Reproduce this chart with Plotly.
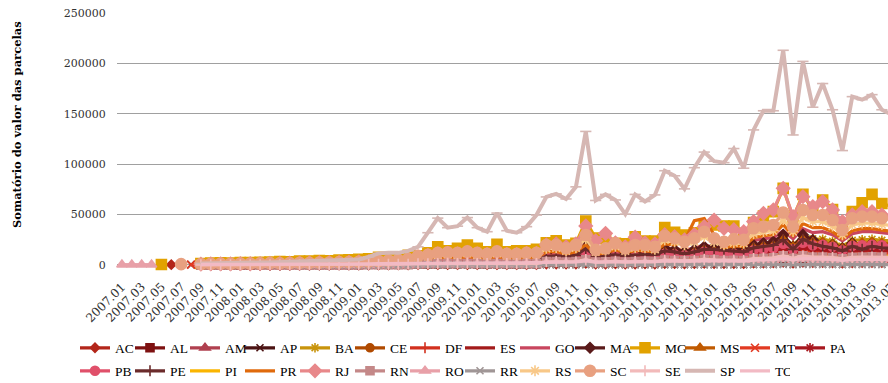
import plotly.graph_objects as go

# Months 2007.01 .. 2013.07
months = [f"{y}.{m:02d}" for y in range(2007, 2014) for m in range(1, 13)][:79]
tick_labels = months[::2]

# Values in thousands (R$), one list per state, aligned with `months`
AC = [None]*5 + [0.3, None, None] + [0.0,0.0,0.0,0.1,0.1,0.1,0.1,0.1,0.1,0.1,0.1,0.1,0.1,0.1,0.1,0.1,0.1,
      0.2,0.2,0.2,0.2,0.2,0.3, 0.3,0.4,0.4,0.4,0.4,0.4,0.3,0.4,0.3,0.3,0.4,0.4,
      1.0,1.0,0.9,1.0,1.6, 0.9,0.9,1.1,0.9,1.0,1.1,1.0,1.4, 1.3,1.2,1.3,1.6,1.5,1.3,1.4,1.3,
      1.8,2.0,2.1,2.7, 1.9,2.7,2.3,2.3,2.2,1.8, 2.2,2.3,2.4,2.3,2.2]
AL = [None]*8 + [0.1,0.1,0.1,0.1,0.1,0.1,0.2,0.2,0.2,0.2,0.2,0.2,0.3,0.3,0.3,0.3,0.3,
      0.4,0.4,0.5,0.5,0.6,0.9, 1.0,1.2,1.3,1.2,1.4,1.2,1.1,1.4,1.1,1.1,1.2,1.2,
      3.0,3.2,2.7,3.0,5.0, 2.7,2.9,3.4,2.7,3.1,3.4,3.1,4.5, 4.2,3.8,4.2,5.0,4.6,4.2,4.4,4.2,
      5.8,6.2,6.5,8.5, 6.0,8.5,7.3,7.3,6.8,5.5, 7.0,7.2,7.4,7.2,7.0]
AM = [None]*8 + [0.1,0.1,0.1,0.1,0.1,0.1,0.1,0.2,0.2,0.2,0.2,0.2,0.2,0.2,0.3,0.3,0.3,
      0.3,0.4,0.4,0.5,0.5,0.8, 0.9,1.1,1.1,1.1,1.2,1.1,1.0,1.2,1.0,1.0,1.1,1.1,
      2.5,2.6,2.2,2.5,4.0, 2.2,2.4,2.8,2.2,2.6,2.8,2.6,3.7, 3.5,3.1,3.5,4.2,3.8,3.5,3.6,3.5,
      4.8,5.2,5.4,7.0, 5.0,7.0,6.0,6.0,5.6,4.6, 5.8,6.0,6.1,6.0,5.8]
AP = [None]*7 + [0.3] + [0.0,0.0,0.0,0.0,0.0,0.0,0.0,0.0,0.0,0.0,0.0,0.0,0.0,0.0,0.0,0.0,0.0,
      0.0,0.1,0.1,0.1,0.1,0.1, 0.1,0.1,0.1,0.1,0.1,0.1,0.1,0.1,0.1,0.1,0.1,0.1,
      0.3,0.3,0.3,0.3,0.5, 0.3,0.3,0.3,0.3,0.3,0.3,0.3,0.3, 0.4,0.4,0.4,0.4,0.4,0.4,0.4,0.4,
      0.5,0.6,0.6,0.8, 0.6,0.8,0.7,0.7,0.7,0.5, 0.7,0.7,0.7,0.7,0.7]
BA = [None]*8 + [0.4,0.5,0.5,0.5,0.6,0.6,0.7,0.7,0.8,0.8,0.9,0.9,1.0,1.1,1.2,1.3,1.4,
      1.6,1.8,2.0,2.3,2.8,4.0, 4.8,5.5,6.0,5.5,6.5,5.5,5.0,6.5,5.0,5.0,5.5,5.5,
      9.5,10.0,8.5,10.0,15.0, 8.0,9.0,11.0,8.5,10.0,10.5,9.5,14.5, 13.5,12.0,13.5,16.5,14.0,12.5,13.5,13.0,
      19.0,20.0,21.0,27.0, 20.0,28.0,26.0,25.5,23.5,18.5, 24.5,25.0,25.5,24.5,24.0]
CE = [None]*8 + [0.2,0.2,0.2,0.3,0.3,0.3,0.3,0.4,0.4,0.4,0.4,0.5,0.5,0.5,0.6,0.6,0.7,
      0.7,0.8,0.9,1.0,1.2,1.8, 2.1,2.5,2.6,2.5,2.8,2.5,2.3,2.8,2.3,2.3,2.5,2.5,
      7.0,7.2,6.0,7.0,11.0, 6.0,6.5,7.5,6.0,7.0,7.5,7.0,10.0, 9.5,8.5,9.5,11.5,10.5,9.5,10.0,9.5,
      13.0,14.0,14.5,19.0, 13.5,19.5,17.0,17.0,15.5,12.5, 16.0,16.5,17.0,16.5,16.0]
DF = [None]*8 + [0.2,0.2,0.3,0.3,0.3,0.3,0.3,0.4,0.4,0.4,0.5,0.5,0.5,0.6,0.6,0.7,0.7,
      0.8,0.9,1.0,1.1,1.3,2.0, 2.4,2.8,2.9,2.8,3.1,2.8,2.6,3.1,2.6,2.6,2.8,2.8,
      7.5,7.8,6.5,7.5,12.0, 6.5,7.0,8.0,6.5,7.5,8.0,7.5,10.5, 10.0,9.0,10.0,12.0,11.0,10.0,10.5,10.0,
      13.5,14.5,15.0,20.0, 14.0,20.0,17.5,17.5,16.0,13.0, 16.5,17.0,17.5,17.0,16.5]
ES = [None]*8 + [0.1,0.1,0.1,0.1,0.2,0.2,0.2,0.2,0.2,0.2,0.3,0.3,0.3,0.3,0.4,0.4,0.4,
      0.5,0.5,0.6,0.6,0.8,1.1, 1.3,1.5,1.6,1.5,1.7,1.5,1.4,1.7,1.4,1.4,1.5,1.5,
      4.0,4.2,3.5,4.0,6.5, 3.5,3.8,4.5,3.5,4.0,4.5,4.0,6.0, 5.5,5.0,5.5,6.5,6.0,5.5,5.8,5.5,
      7.5,8.0,8.5,11.0, 8.0,11.0,9.5,9.5,9.0,7.0, 9.0,9.5,9.5,9.5,9.0]
GO = [None]*8 + [0.3,0.4,0.4,0.4,0.5,0.5,0.6,0.6,0.6,0.7,0.7,0.8,0.8,0.9,1.0,1.1,1.2,
      1.3,1.5,1.7,1.9,2.3,3.5, 4.0,4.8,5.0,4.8,5.5,4.8,4.5,5.5,4.5,4.5,5.0,5.0,
      11.0,11.5,9.5,11.0,17.0, 9.0,10.0,12.5,10.0,12.0,13.0,12.0,17.0, 16.0,15.0,16.5,20.0,17.0,15.0,16.5,16.0,
      24.0,26.0,27.0,34.0, 26.0,36.0,32.0,33.0,30.0,24.0, 31.0,33.0,33.0,32.0,31.0]
MA = [None]*8 + [0.2,0.2,0.3,0.3,0.3,0.3,0.4,0.4,0.4,0.5,0.5,0.5,0.6,0.6,0.7,0.7,0.8,
      0.9,1.0,1.1,1.2,1.5,2.2, 2.6,3.0,3.2,3.0,3.4,3.0,2.8,3.4,2.8,2.8,3.0,3.2,
      10.0,10.5,10.0,11.0,19.8, 10.0,11.0,11.6,10.5,12.0,12.0,11.5,16.5, 15.0,13.0,15.0,18.0,18.0,17.0,16.0,15.0,
      19.8,21.5,23.0,29.8, 18.0,29.8,24.8,21.5,20.0,16.5, 21.5,18.0,21.5,20.0,19.5]
MG = [None]*4 + [0.5] + [None]*3 + [1.5,2.0,2.2,2.0,2.5,2.4,2.6,3.0,3.5,3.2,3.8,4.0,4.5,4.2,4.8,5.0,5.5,
      6.0,7.5,7.0,8.0,9.5,9.0, 12.0,18.0,14.0,16.5,19.8,16.5,13.0,20.5,13.0,14.0,14.0,15.5,
      22.0,24.0,19.8,21.5,43.6, 26.8,26.0,21.5,21.0,28.0,23.8,23.8,37.0, 32.4,29.8,32.0,38.7,39.7,38.7,38.7,31.4,
      42.0,48.6,52.9,76.0, 47.0,70.0,54.6,64.5,55.0,34.7, 53.0,61.8,70.0,61.0,58.0]
MS = [None]*8 + [0.3,0.3,0.4,0.4,0.4,0.4,0.5,0.5,0.5,0.6,0.6,0.6,0.7,0.7,0.8,0.8,0.9,
      1.0,1.1,1.3,1.4,1.7,2.5, 3.0,3.5,3.6,3.5,4.0,3.5,3.2,4.0,3.2,3.2,3.6,3.6,
      9.0,9.5,8.0,9.5,14.0, 7.5,8.5,10.0,8.0,9.5,10.0,9.0,13.0, 12.0,11.0,12.5,15.0,14.0,12.5,13.0,12.5,
      17.0,18.5,19.0,25.0, 18.0,25.0,22.5,22.5,20.0,16.0, 21.0,22.0,22.5,21.5,21.0]
MT = [None]*7 + [0.3] + [0.1,0.2,0.2,0.2,0.2,0.2,0.3,0.3,0.3,0.3,0.3,0.4,0.4,0.4,0.5,0.5,0.5,
      0.6,0.7,0.7,0.8,1.0,1.5, 1.8,2.1,2.2,2.1,2.4,2.1,1.9,2.4,1.9,1.9,2.1,2.1,
      5.5,5.8,4.8,5.5,9.0, 4.8,5.2,6.0,4.8,5.5,6.0,5.5,8.0, 7.5,6.5,7.5,9.0,8.0,7.5,7.8,7.5,
      10.0,11.0,11.5,15.0, 10.5,15.0,13.0,13.0,12.0,9.5, 12.5,13.0,13.0,12.5,12.0]
PA = [None]*8 + [0.2,0.2,0.2,0.2,0.3,0.3,0.3,0.3,0.3,0.4,0.4,0.4,0.4,0.5,0.5,0.6,0.6,
      0.7,0.8,0.8,0.9,1.1,1.7, 2.0,2.4,2.5,2.4,2.7,2.4,2.2,2.7,2.2,2.2,2.4,2.4,
      6.5,6.8,5.5,6.5,10.5, 5.5,6.0,7.0,5.5,6.5,7.0,6.5,9.0, 8.5,7.5,8.5,10.5,9.5,8.5,9.0,8.5,
      11.5,12.5,13.0,17.0, 12.0,17.5,15.0,15.0,13.5,11.0, 14.0,14.5,15.0,14.5,14.0]
PB = [None]*8 + [0.2,0.3,0.3,0.3,0.4,0.4,0.4,0.5,0.5,0.5,0.6,0.6,0.7,0.7,0.8,0.9,1.0,
      1.1,1.2,1.4,1.6,1.9,2.8, 3.3,3.9,4.2,4.0,4.5,4.0,3.8,4.5,3.8,3.8,4.2,4.2,
      8.0,8.2,7.0,8.0,12.0, 6.5,7.0,8.5,7.0,8.0,8.5,8.0,11.0, 10.5,9.5,10.5,13.0,11.5,10.0,11.0,10.5,
      14.5,15.5,16.5,21.0, 15.5,22.0,19.5,20.0,18.0,14.5, 19.0,19.5,20.0,19.5,19.0]
PE = [None]*8 + [0.2,0.2,0.2,0.2,0.3,0.3,0.3,0.3,0.4,0.4,0.4,0.4,0.5,0.5,0.6,0.6,0.7,
      0.8,0.9,0.9,1.0,1.3,1.9, 2.2,2.6,2.7,2.6,2.9,2.6,2.4,2.9,2.4,2.4,2.6,2.7,
      8.5,9.0,8.5,9.5,16.5, 8.5,9.5,10.0,9.0,10.0,10.5,10.0,14.0, 13.0,11.0,13.0,15.5,15.5,14.5,13.5,13.0,
      17.0,18.5,19.5,25.0, 15.5,25.5,21.0,18.5,17.0,14.0, 18.5,15.5,18.5,17.0,16.5]
PI = [None]*8 + [0.1,0.1,0.1,0.2,0.2,0.2,0.2,0.2,0.2,0.3,0.3,0.3,0.3,0.3,0.4,0.4,0.4,
      0.5,0.5,0.6,0.7,0.8,1.2, 1.4,1.6,1.7,1.6,1.8,1.6,1.5,1.8,1.5,1.5,1.6,1.6,
      3.8,4.0,3.4,3.8,6.0, 3.4,3.6,4.2,3.4,3.9,4.2,3.9,5.5, 5.2,4.7,5.2,6.2,5.7,5.2,5.4,5.2,
      7.0,7.5,7.9,10.5, 7.4,10.5,9.0,9.0,8.4,6.8, 8.6,8.9,9.2,8.9,8.6]
PR = [None]*8 + [0.5,0.6,0.7,0.6,0.8,0.7,0.9,1.0,1.0,1.1,1.2,1.2,1.4,1.4,1.6,1.7,1.8,
      2.0,2.3,2.6,2.9,3.5,5.0, 6.0,7.0,7.5,7.0,8.0,7.0,6.5,8.0,6.5,6.5,7.0,7.0,
      13.0,13.5,11.0,13.0,20.0, 10.5,12.0,15.0,12.0,14.5,14.0,13.0,21.0, 20.0,24.0,44.0,46.0,30.0,17.0,19.0,18.5,
      27.0,29.0,30.0,40.0, 29.0,41.0,37.0,37.0,33.0,26.0, 34.0,36.0,36.0,34.5,33.5]
RJ = [None]*8 + [0.8,1.0,1.1,1.0,1.3,1.2,1.4,1.5,1.6,1.8,1.9,2.0,2.2,2.3,2.5,2.8,3.0,
      3.3,3.8,4.0,4.5,5.5,8.0, 9.5,11.0,11.5,11.0,12.5,11.0,10.5,12.5,10.5,10.5,11.5,11.5,
      20.0,21.0,18.0,21.0,38.7, 24.0,31.4,22.0,18.0,27.5,22.0,21.0,30.0, 28.0,25.0,30.0,38.0,44.6,36.4,35.0,33.0,
      43.0,51.3,54.6,76.0, 48.0,67.8,57.9,62.8,54.6,43.0, 49.6,52.9,52.9,49.6,48.0]
RN = [None]*8 + [0.1,0.1,0.1,0.1,0.2,0.2,0.2,0.2,0.2,0.2,0.2,0.3,0.3,0.3,0.3,0.4,0.4,
      0.4,0.5,0.5,0.6,0.7,1.0, 1.2,1.4,1.4,1.4,1.5,1.4,1.3,1.5,1.3,1.3,1.4,1.4,
      3.3,3.5,3.0,3.3,5.0, 3.0,3.2,3.7,3.0,3.4,3.7,3.4,4.8, 4.5,4.1,4.5,5.4,5.0,4.5,4.7,4.5,
      6.2,6.7,7.0,9.0, 6.5,9.0,7.8,7.8,7.3,6.0, 7.5,7.8,8.0,7.8,7.5]
RO = [0.3]*4 + [None]*4 + [0.1,0.1,0.1,0.1,0.1,0.1,0.1,0.1,0.1,0.2,0.2,0.2,0.2,0.2,0.2,0.2,0.3,
      0.3,0.3,0.3,0.4,0.4,0.6, 0.7,0.8,0.9,0.8,0.9,0.8,0.8,0.9,0.8,0.8,0.8,0.9,
      2.0,2.1,1.8,2.0,3.2, 1.8,1.9,2.2,1.8,2.1,2.2,2.1,3.0, 2.8,2.5,2.8,3.4,3.1,2.8,2.9,2.8,
      3.8,4.2,4.3,5.6, 4.0,5.6,4.8,4.8,4.5,3.7, 4.6,4.8,4.9,4.8,4.6]
RR = [None]*8 + [0.0,0.0,0.0,0.0,0.0,0.0,0.0,0.0,0.0,0.0,0.0,0.0,0.0,0.0,0.0,0.0,0.0,
      0.0,0.0,0.1,0.1,0.1,0.1, 0.1,0.1,0.1,0.1,0.1,0.1,0.1,0.1,0.1,0.1,0.1,0.1,
      0.2,0.2,0.2,0.2,0.3, 0.2,0.2,0.2,0.2,0.2,0.2,0.2,0.2, 0.3,0.3,0.3,0.3,0.3,0.3,0.3,0.3,
      0.3,0.4,0.4,0.5, 0.4,0.5,0.4,0.4,0.4,0.3, 0.4,0.4,0.4,0.4,0.4]
RS = [None]*8 + [0.8,0.9,1.0,1.0,1.2,1.1,1.3,1.4,1.4,1.6,1.8,1.7,2.0,2.1,2.3,2.5,2.6,
      3.0,3.4,3.8,4.2,5.0,7.5, 8.5,10.0,10.5,10.0,11.5,10.0,9.5,11.5,9.5,9.5,10.5,10.5,
      16.5,17.0,14.0,17.0,26.0, 13.0,14.5,18.5,14.0,17.0,17.0,15.5,25.0, 23.0,20.0,23.0,28.0,23.0,20.0,22.0,21.5,
      31.0,33.0,34.0,45.0, 33.0,47.0,43.0,43.0,38.5,30.0, 40.0,41.5,41.5,40.0,39.0]
SC = [None]*6 + [0.8, None] + [1.0,1.2,1.3,1.2,1.5,1.4,1.6,1.8,1.7,2.0,2.2,2.1,2.4,2.5,2.8,3.0,3.2,
      3.5,4.0,4.5,5.0,6.0,9.0, 10.0,12.0,12.5,12.0,13.5,12.0,11.0,13.5,11.0,11.0,12.0,12.0,
      19.8,19.8,16.5,19.8,29.8, 15.0,16.5,21.5,16.5,19.8,19.8,18.0,28.8, 26.5,23.0,26.5,33.0,26.5,23.0,25.6,25.0,
      36.4,38.0,39.7,52.0, 38.0,54.6,49.6,49.6,44.6,34.7, 46.3,48.0,48.0,46.3,45.0]
SE = [None]*8 + [0.1,0.1,0.1,0.1,0.1,0.2,0.2,0.2,0.2,0.2,0.2,0.3,0.3,0.3,0.3,0.3,0.4,
      0.4,0.5,0.5,0.6,0.7,1.0, 1.2,1.4,1.5,1.4,1.6,1.4,1.3,1.6,1.3,1.3,1.4,1.4,
      3.2,3.4,2.9,3.2,5.2, 2.9,3.1,3.6,2.9,3.4,3.6,3.4,4.8, 4.6,4.0,4.6,5.5,5.0,4.6,4.7,4.6,
      6.2,6.8,7.0,9.1, 6.5,9.1,7.8,7.8,7.3,6.0, 7.5,7.8,7.9,7.8,7.5]
SP = [None]*8 + [1.5,1.8,1.6,2.0,2.2,2.0,2.4,2.5,2.8,3.0,3.3,3.5,3.8,4.2,4.6,5.0,5.5,
      8.0,11.5,12.0,12.0,14.0,18.0, 32.0,46.5,37.0,38.5,47.0,37.0,33.0,51.5,34.0,32.0,38.0,49.5,
      67.5,70.5,65.5,77.5,132.5, 64.0,70.0,64.5,50.5,70.0,63.0,69.5,93.5, 88.5,75.5,96.5,112.0,103.0,101.5,115.5,96.0,
      134.0,153.0,153.0,213.0, 129.0,202.0,156.5,180.0,154.0,113.5, 167.0,164.0,169.0,154.0,149.0]
TO = [None]*8 + [0.5,0.5,0.6,0.6,0.6,0.7,0.7,0.7,0.8,0.8,0.8,0.9,0.9,1.0,1.0,1.1,1.1,
      1.2,1.3,1.4,1.5,1.6,1.8, 2.0,2.2,2.2,2.2,2.3,2.2,2.1,2.3,2.1,2.1,2.2,2.2,
      3.0,3.1,2.9,3.0,4.0, 2.9,3.0,3.3,2.9,3.2,3.3,3.2,4.0, 3.9,3.6,3.9,4.4,4.1,3.9,4.0,3.9,
      4.8,5.1,5.3,6.4, 5.0,6.4,5.7,5.7,5.4,4.6, 5.5,5.7,5.8,5.7,5.5]

series = {
    "AC": AC, "AL": AL, "AM": AM, "AP": AP, "BA": BA, "CE": CE, "DF": DF,
    "ES": ES, "GO": GO, "MA": MA, "MG": MG, "MS": MS, "MT": MT, "PA": PA,
    "PB": PB, "PE": PE, "PI": PI, "PR": PR, "RJ": RJ, "RN": RN, "RO": RO,
    "RR": RR, "RS": RS, "SC": SC, "SE": SE, "SP": SP, "TO": TO,
}
for name, vals in series.items():
    if len(vals) != len(months):
        raise ValueError(f"{name}: {len(vals)} values for {len(months)} months")

# colour, marker symbol, marker size per state
style = {
    "AC": ("#B3261A", "diamond", 7),
    "AL": ("#7E1111", "square", 8),
    "AM": ("#B0404F", "triangle-up", 9),
    "AP": ("#4B1313", "x-thin", 7),
    "BA": ("#C8940C", "asterisk", 8),
    "CE": ("#B04A00", "circle", 8),
    "DF": ("#D2301E", "cross-thin", 8),
    "ES": ("#A31B1B", None, 0),
    "GO": ("#C8465E", None, 0),
    "MA": ("#5A1A1A", "diamond", 8),
    "MG": ("#E2A200", "square", 10),
    "MS": ("#C05A00", "triangle-up", 9),
    "MT": ("#E23A22", "x-thin", 8),
    "PA": ("#A8181F", "asterisk", 8),
    "PB": ("#E0506A", "circle", 9),
    "PE": ("#6B2B2B", "cross-thin", 8),
    "PI": ("#FAB500", None, 0),
    "PR": ("#E06A0C", None, 0),
    "RJ": ("#E8888A", "diamond", 10),
    "RN": ("#C48888", "square", 8),
    "RO": ("#E8A0A8", "triangle-up", 9),
    "RR": ("#A09696", "x-thin", 7),
    "RS": ("#F8C888", "asterisk", 9),
    "SC": ("#E8A080", "circle", 11),
    "SE": ("#F2BABA", "cross-thin", 8),
    "SP": ("#D6B7B3", "line-ew", 8),
    "TO": ("#F2BAC4", None, 0),
}

row1 = ["AC", "AL", "AM", "AP", "BA", "CE", "DF", "ES", "GO", "MA", "MG", "MS", "MT", "PA"]

fig = go.Figure()
for name, vals in series.items():
    color, symbol, size = style[name]
    y = [None if v is None else v * 1000 for v in vals]
    width = 4 if name == "SP" else 3.2
    kw = dict(
        x=months, y=y, name=name,
        line=dict(color=color, width=width),
        cliponaxis=False,
        legend="legend" if name in row1 else "legend2",
    )
    if symbol:
        kw["mode"] = "lines+markers"
        kw["marker"] = dict(symbol=symbol, size=size, color=color,
                            line=dict(color=color, width=1.6))
    else:
        kw["mode"] = "lines"
    fig.add_trace(go.Scatter(**kw))

serif = "Liberation Serif"
ytick_font = dict(family="DejaVu Serif", size=11, color="#333333")
xtick_font = dict(family="DejaVu Serif", size=12, color="#333333")

legend_common = dict(
    orientation="h", xref="paper", yref="paper", xanchor="left", yanchor="top",
    x=(75 - 117) / 771, itemwidth=30, entrywidth=10, entrywidthmode="pixels",
    font=dict(family=serif, size=13.5, color="#000000"),
    bgcolor="rgba(0,0,0,0)", tracegroupgap=0, itemclick=False,
)

# plot area spans x 117..888 px and y 13..270 px
PLOT_L, PLOT_W, PLOT_B, PLOT_H = 117, 771, 270, 257
X_RANGE = [-0.5, 77.62]

def px_x(px):
    return (px - PLOT_L) / PLOT_W

def px_y(py):
    return (PLOT_B - py) / PLOT_H

# month labels, slanted, every second month (category index on the x axis);
# the last one sits past the right end of the axis range, so it is placed
# on the same scale in paper units
label_top = px_y(277)
label_shift = 10
month_labels = []
for idx in range(0, len(months) - 1, 2):
    month_labels.append(dict(
        text=months[idx], textangle=-45, xref="x", x=idx, yref="paper", y=label_top,
        xanchor="right", yanchor="top", xshift=label_shift, showarrow=False, font=xtick_font,
    ))
last_idx = len(months) - 1
month_labels.append(dict(
    text=months[last_idx], textangle=-45, xref="paper",
    x=(last_idx - X_RANGE[0]) / (X_RANGE[1] - X_RANGE[0]), yref="paper", y=label_top,
    xanchor="right", yanchor="top", xshift=label_shift, showarrow=False, font=xtick_font,
))

fig.update_layout(
    width=888, height=383,
    margin=dict(l=PLOT_L, r=0, t=13, b=383 - PLOT_B, autoexpand=False),
    paper_bgcolor="white", plot_bgcolor="white",
    showlegend=True,
    legend=dict(legend_common, y=px_y(332.5)),
    legend2=dict(legend_common, y=px_y(355.5)),
    xaxis=dict(
        type="category", range=X_RANGE, showticklabels=False,
        showgrid=False, showline=False, zeroline=False, ticks="",
    ),
    yaxis=dict(
        range=[-5000, 250000], tickvals=[0, 50000, 100000, 150000, 200000, 250000],
        tickformat="d", tickfont=ytick_font, showgrid=True, gridcolor="#A0A0A0",
        gridwidth=1.3, zeroline=False, showline=False,
        ticks="outside", ticklen=8, tickcolor="rgba(0,0,0,0)",
    ),
    annotations=[
        dict(
            text="<b>Somatório do valor das parcelas</b>", textangle=-90,
            xref="paper", yref="paper", x=px_x(17), y=px_y(124),
            xanchor="center", yanchor="middle", showarrow=False,
            font=dict(family="DejaVu Serif", size=11.5, color="#000000"),
        ),
    ] + month_labels,
)

fig.write_html("out.html")
